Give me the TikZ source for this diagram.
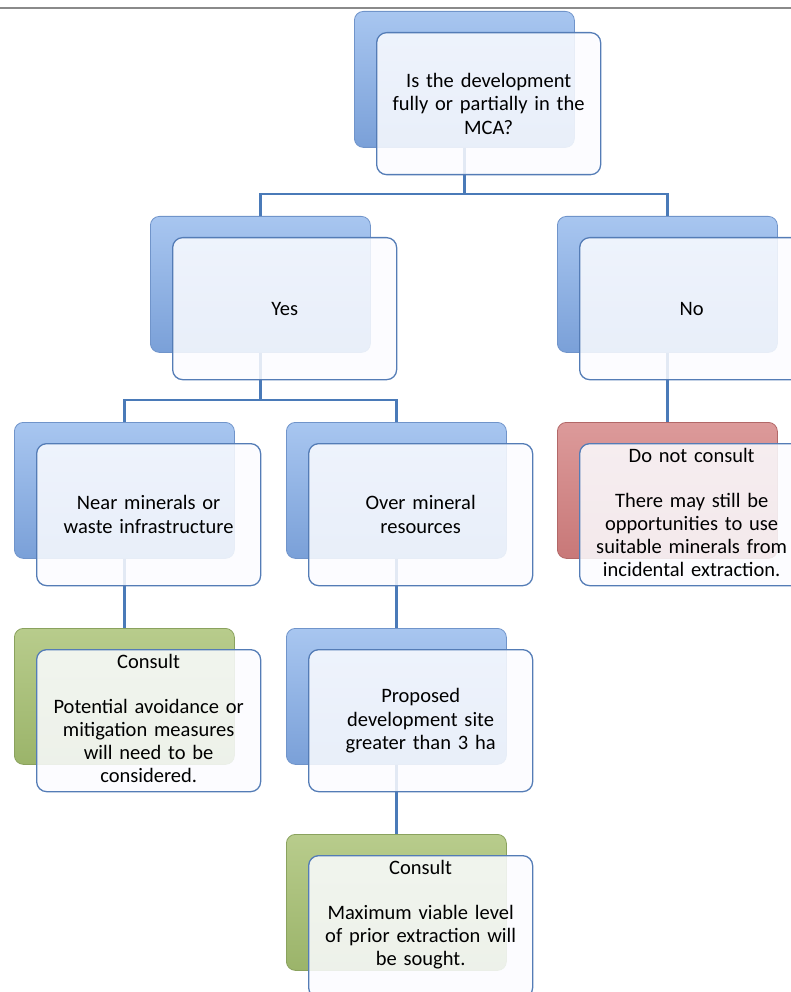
\documentclass[tikz,border=0pt]{standalone}
\usepackage{fontspec}
\setmainfont{Carlito}
\definecolor{lineblue}{RGB}{74,122,184}
\definecolor{frontline}{RGB}{84,124,182}
\definecolor{blueT}{RGB}{168,198,240}
\definecolor{blueB}{RGB}{122,160,216}
\definecolor{blueE}{RGB}{112,148,202}
\definecolor{greenT}{RGB}{184,204,140}
\definecolor{greenB}{RGB}{155,180,106}
\definecolor{greenE}{RGB}{138,162,94}
\definecolor{redT}{RGB}{220,154,154}
\definecolor{redB}{RGB}{200,120,120}
\definecolor{redE}{RGB}{178,104,104}
\definecolor{topgray}{RGB}{138,138,138}
\definecolor{frontfill}{RGB}{251,252,255}
\begin{document}
\begin{tikzpicture}[x=1pt,y=-1pt,
  backbox/.style={rectangle, rounded corners=9pt, minimum width=220pt, minimum height=136pt,
    anchor=north west, inner sep=0pt, line width=0.8pt},
  blueback/.style={backbox, top color=blueT, bottom color=blueB, draw=blueE},
  greenback/.style={backbox, top color=greenT, bottom color=greenB, draw=greenE},
  redback/.style={backbox, top color=redT, bottom color=redB, draw=redE},
  frontbox/.style={rectangle, rounded corners=10pt, minimum width=224pt, minimum height=142pt,
    anchor=north west, draw=frontline, line width=1.3pt, fill=frontfill, fill opacity=0.86,
    text opacity=1, align=center, inner sep=4pt, text width=214pt,
    font=\fontsize{20.5}{23.5}\selectfont},
  boxtext/.style={anchor=north, align=center, inner sep=0pt, text width=222pt,
    font=\fontsize{20.5}{23}\selectfont},
  conn/.style={draw=lineblue, line width=2.8pt}
]
\useasboundingbox (0,0) rectangle (791,992);
\clip (0,0) rectangle (791,992);
\draw[topgray, line width=2pt] (0,8) -- (791,8);

% back boxes
\node[blueback]  (topB)  at (354,11)  {};
\node[blueback]  (yesB)  at (150,216) {};
\node[blueback]  (noB)   at (557,216) {};
\node[blueback]  (nearB) at (14,422)  {};
\node[blueback]  (overB) at (286,422) {};
\node[redback]   (redB)  at (557,422) {};
\node[greenback] (gaB)   at (14,628)  {};
\node[blueback]  (propB) at (286,628) {};
\node[greenback] (gbB)   at (286,834) {};

% connectors
\coordinate (busA) at (0,194);
\coordinate (busB) at (0,400);
\draw[conn] (topB.south) -- (topB.south |- busA) -| (yesB.north);
\draw[conn] (topB.south |- busA) -| (noB.north);
\draw[conn] (yesB.south) -- (yesB.south |- busB) -| (nearB.north);
\draw[conn] (yesB.south |- busB) -| (overB.north);
\draw[conn] (noB.south) -- (redB.north);
\draw[conn] (nearB.south) -- (gaB.north);
\draw[conn] (overB.south) -- (propB.north);
\draw[conn] (propB.south) -- (gbB.north);

% front boxes
\node[frontbox] (topF)  at (376,32)  {Is the development\\fully or partially in the\\MCA?};
\node[frontbox] (yesF)  at (172,237) {Yes};
\node[frontbox] (noF)   at (579,237) {No};
\node[frontbox] (nearF) at (36,443)  {Near minerals or\\waste infrastructure};
\node[frontbox] (overF) at (308,443) {Over mineral\\resources};
\node[frontbox] (redF)  at (579,443) {};
\node[frontbox] (gaF)   at (36,649)  {};
\node[frontbox] (propF) at (308,649) {Proposed\\development site\\greater than 3 ha};
\node[frontbox] (gbF)   at (308,855) {};

% top-aligned texts
\node[boxtext] (redT) at ([yshift=-5pt]redF.north) {Do not consult\\[22pt]There may still be\\opportunities to use\\suitable minerals from\\incidental extraction.};
\node[boxtext] (gaT) at ([yshift=-5pt]gaF.north) {Consult\\[22pt]Potential avoidance or\\mitigation measures\\will need to be\\considered.};
\node[boxtext] (gbT) at ([yshift=-5pt]gbF.north) {Consult\\[22pt]Maximum viable level\\of prior extraction will\\be sought.};
\end{tikzpicture}
\end{document}
